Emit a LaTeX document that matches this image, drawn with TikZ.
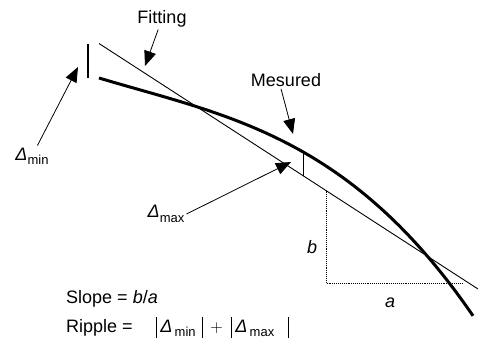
\documentclass[tikz,border=0pt]{standalone}
\usepackage{fontspec}
\setmainfont{Liberation Sans}
\usetikzlibrary{arrows.meta, positioning}

\newcommand{\dlt}[1]{\textit{Δ}\raisebox{-0.45ex}{\fontsize{13}{13}\selectfont #1}}
\newcommand{\vbar}{\raisebox{-5pt}{\rule{0.7pt}{21pt}}}

\begin{document}
\begin{tikzpicture}[x=1pt, y=-1pt,
    every node/.style={font=\fontsize{18}{21}\selectfont, inner sep=2pt},
    pointer/.style={-{Triangle[length=15pt,width=12pt]}, line width=0.8pt},
    fitline/.style={line width=0.9pt},
    mesline/.style={line width=3pt},
    gapline/.style={line width=0.9pt}]
  \useasboundingbox (0,0) rectangle (478,345);

  % Fitting line and measured curve
  \coordinate (fitA) at (99,43.5);
  \coordinate (fitB) at (478,289);
  \draw[fitline] (fitA) -- (fitB);
  \draw[mesline] (99,78) .. controls (223.7,115.4) and (348.3,133.9) .. (473,315.8);

  % Deviations
  \draw[gapline, line width=1.5pt] (88,44) -- (88,78);
  \draw[gapline] (303,152) -- (303,175.5);

  % Slope triangle
  \draw[densely dotted, line width=0.9pt] (326,190.5) -- (326,283) -- (463,283);
  \node (blbl) at (312,247) {\textit{b}};
  \node (albl) at (390,303) {\textit{a}};

  % Labels with pointers
  \coordinate (fittip) at (145,66);
  \coordinate (mestip) at (293,134);
  \coordinate (dmintip) at (78,67);
  \coordinate (dmaxtip) at (291,162);

  \node (fitlbl) at (162,19) {Fitting};
  \node (meslbl) at (286,80) {Mesured};
  \node (dminlbl) at (32,156) {\dlt{min}};
  \node (dmaxlbl) at (166,214) {\dlt{max}};

  \draw[pointer] (fitlbl) -- (fittip);
  \draw[pointer] ([xshift=-5pt]meslbl.south) -- (mestip);
  \draw[pointer] (dminlbl) -- (dmintip);
  \draw[pointer] (dmaxlbl.east) -- (dmaxtip);

  % Formulas
  \node[anchor=west] (slope) at (64,299) {Slope = \textit{b}/\textit{a}};
  \node[anchor=west] (ripple) at (64,327)
    {Ripple =\hspace{23pt}\vbar\hspace{4pt}\dlt{\,min}\hspace{6pt}\vbar\hspace{8pt}$+$\hspace{8pt}\vbar\hspace{4pt}\dlt{\,max}\hspace{14pt}\vbar};
\end{tikzpicture}
\end{document}
